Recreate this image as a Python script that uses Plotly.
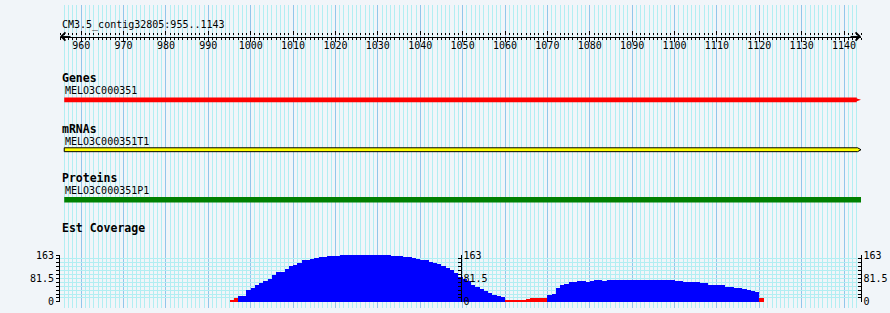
import plotly.graph_objects as go

W, H = 890, 313

# ---------------- data ----------------
region_name = "CM3.5_contig32805"
region_start = 955
region_end = 1143
ruler_ticks = [960, 970, 980, 990, 1000, 1010, 1020, 1030, 1040, 1050, 1060,
               1070, 1080, 1090, 1100, 1110, 1120, 1130, 1140]

track_titles = ["Genes", "mRNAs", "Proteins", "Est Coverage"]
feature_names = ["MELO3C000351", "MELO3C000351T1", "MELO3C000351P1"]
feature_starts = [956, 956, 956]
feature_ends = [1144, 1144, 1144]
feature_colors = ["#ff0000", "#ffff00", "#008000"]

coverage_start = 995
coverage_values = [
    4, 13, 20, 22, 40, 47, 57, 67, 73, 80,
    93, 103, 103, 116, 124, 128, 136, 146, 146, 150,
    153, 156, 156, 160, 160, 160,
    163, 163, 163, 163, 163, 163, 163, 163, 163, 163,
    162, 162, 161, 160, 158, 157, 155, 153, 150, 147,
    144, 140, 136, 131, 125, 118, 110, 100, 88, 80,
    71, 60, 52, 45, 38, 31, 25, 21, 18,
    7, 7, 7, 7, 7, 10, 13, 15, 15, 15,
    23, 27, 47, 60, 63, 70, 70, 72, 72, 70, 73, 76, 76, 73,
    76, 76, 76, 76, 76, 76, 76, 76, 76, 76, 76, 76, 76, 76, 76, 76,
    73, 72, 69, 69, 69, 69, 66, 66, 60, 60, 60, 60,
    53, 50, 47, 47, 43, 40, 37, 33, 15,
]
coverage_max = 163
coverage_ticks = [0, 81.5, 163]
low_coverage_limit = 17

# ---------------- styling ----------------
BG = "#f1f5f9"
MINOR_GRID = "#b2eef2"
MAJOR_GRID = "#92c6ea"
MONO = "DejaVu Sans Mono, Liberation Mono, monospace"

positions = [coverage_start + i + 0.5 for i in range(len(coverage_values))]
bar_colors = ["#ff0000" if v < low_coverage_limit else "#0000ff" for v in coverage_values]

x_lo, x_hi = region_start, region_end + 1
xdom = [60 / W, 861 / W]


def pv(p):
    """paper y from pixel y (from top)"""
    return 1 - p / H


fig = go.Figure()

fig.add_trace(go.Bar(
    x=positions, y=coverage_values, width=[1] * len(positions),
    marker=dict(color=bar_colors, line=dict(width=0)),
    xaxis="x2", yaxis="y2", showlegend=False, hoverinfo="x+y",
))
# empty traces so that every axis is drawn
for xa, ya in [("x2", "y3"), ("x2", "y4"), ("x", "y"), ("x3", "y5"), ("x4", "y5")]:
    fig.add_trace(go.Scatter(x=[None], y=[None], xaxis=xa, yaxis=ya,
                             showlegend=False, hoverinfo="skip"))

cov_minor = [coverage_max * k / 12 for k in range(13)]
axis_font = dict(family=MONO, size=10, color="black")

yaxis_common = dict(range=[0, coverage_max], tickvals=coverage_ticks,
                    ticktext=[("%g" % t) for t in coverage_ticks],
                    showline=True, linecolor="black", linewidth=1,
                    tickcolor="black", tickfont=axis_font, zeroline=False,
                    fixedrange=True)

fig.update_layout(
    width=W, height=H,
    margin=dict(l=0, r=0, t=0, b=0),
    paper_bgcolor=BG, plot_bgcolor="rgba(0,0,0,0)",
    bargap=0,
    xaxis=dict(domain=xdom, range=[x_lo, x_hi], anchor="y",
               tickmode="linear", tick0=960, dtick=10,
               showgrid=True, gridcolor=MAJOR_GRID, gridwidth=1,
               minor=dict(tick0=955, dtick=1, showgrid=True,
                          gridcolor=MINOR_GRID, gridwidth=1),
               showticklabels=False, ticks="", zeroline=False,
               showline=False),
    yaxis=dict(domain=[0, 1], range=[H, 0], visible=False),
    xaxis2=dict(domain=xdom, range=[x_lo, x_hi], anchor="y2",
                matches="x", visible=False, showgrid=False),
    yaxis2=dict(domain=[pv(306.7), pv(258.3)], anchor="x2", side="left",
                ticks="outside", ticklen=3,
                showgrid=True, gridcolor=MINOR_GRID,
                minor=dict(tickvals=cov_minor, ticks="outside", ticklen=3,
                           tickcolor="black", showgrid=True,
                           gridcolor=MINOR_GRID),
                **yaxis_common),
    yaxis3=dict(overlaying="y2", anchor="free", side="right",
                position=460.5 / W, ticks="inside", ticklen=3,
                showgrid=False,
                minor=dict(tickvals=cov_minor, ticks="inside", ticklen=3,
                           tickcolor="black"),
                **yaxis_common),
    yaxis4=dict(overlaying="y2", anchor="free", side="right",
                position=860.5 / W, ticks="inside", ticklen=3,
                showgrid=False,
                minor=dict(tickvals=cov_minor, ticks="inside", ticklen=3,
                           tickcolor="black"),
                **yaxis_common),
    yaxis5=dict(domain=[pv(33), pv(32)], range=[0, 1], visible=False,
                fixedrange=True),
    xaxis3=dict(domain=xdom, range=[x_lo, x_hi], anchor="y5", side="bottom",
                matches="x", tickvals=ruler_ticks, ticks="outside",
                ticklen=4, tickcolor="black", showline=True,
                linecolor="black", linewidth=1, showgrid=False,
                zeroline=False, tickfont=axis_font, ticklabelstandoff=-5,
                minor=dict(tick0=955, dtick=1, ticks="outside", ticklen=2,
                           tickcolor="black")),
    xaxis4=dict(domain=xdom, range=[x_lo, x_hi], anchor="y5", side="top",
                matches="x", tickvals=ruler_ticks, ticks="outside",
                ticklen=4, tickcolor="black", showline=False,
                showticklabels=False, showgrid=False, zeroline=False,
                minor=dict(tick0=955, dtick=1, ticks="outside", ticklen=2,
                           tickcolor="black")),
)

annotations = []
# region title
annotations.append(dict(text="%s:%d..%d" % (region_name, region_start, region_end),
                        xref="paper", yref="y", x=60 / W, y=20.5, xanchor="left",
                        yanchor="middle", showarrow=False,
                        font=dict(family=MONO, size=10, color="black")))
# ruler arrows
annotations.append(dict(x=x_lo, y=pv(32.5), xref="x", yref="paper", ax=12, ay=0,
                        showarrow=True, arrowhead=4, arrowsize=1.6,
                        arrowwidth=1, arrowcolor="black", text=""))
annotations.append(dict(x=x_hi, y=pv(32.5), xref="x", yref="paper", ax=-12, ay=0,
                        showarrow=True, arrowhead=4, arrowsize=1.6,
                        arrowwidth=1, arrowcolor="black", text=""))

title_y = [75.5, 128, 178.5, 230.5]
for t, yy in zip(track_titles, title_y):
    annotations.append(dict(text="<b>%s</b>" % t, xref="paper", yref="y",
                            x=59.5 / W, y=yy, xanchor="left", yanchor="middle",
                            showarrow=False,
                            font=dict(family=MONO, size=11.5, color="black")))

name_y = [88.5, 140.5, 191.5]
for nm, yy in zip(feature_names, name_y):
    annotations.append(dict(text=nm, xref="paper", yref="y", x=63 / W, y=yy,
                            xanchor="left", yanchor="middle", showarrow=False,
                            font=dict(family=MONO, size=10, color="black")))

fig.update_layout(annotations=annotations)

# feature glyphs
shapes = []
# gene: arrow-ended bar
s, e = feature_starts[0], feature_ends[0]
shapes.append(dict(type="path", xref="x", yref="y",
                   path="M%g,95.5 L%g,95.5 L%g,96.7 L%g,98 L%g,99.3 L%g,100.5 L%g,100.5 Z"
                   % (s, e - 1, e - 1, e, e - 1, e - 1, s),
                   fillcolor=feature_colors[0], line=dict(width=0), layer="above"))
# mRNA: outlined arrow bar
s, e = feature_starts[1], feature_ends[1]
shapes.append(dict(type="path", xref="x", yref="y",
                   path="M%g,147.5 L%g,147.5 L%g,149.5 L%g,151.5 L%g,151.5 Z"
                   % (s, e - 0.8, e, e - 0.8, s),
                   fillcolor=feature_colors[1], line=dict(width=1, color="black"),
                   layer="above"))
# protein: plain box
s, e = feature_starts[2], feature_ends[2]
shapes.append(dict(type="rect", xref="x", yref="y", x0=s, x1=e, y0=198.3, y1=204,
                   fillcolor=feature_colors[2], line=dict(width=0), layer="above"))
fig.update_layout(shapes=shapes)

fig.write_html("out.html")
